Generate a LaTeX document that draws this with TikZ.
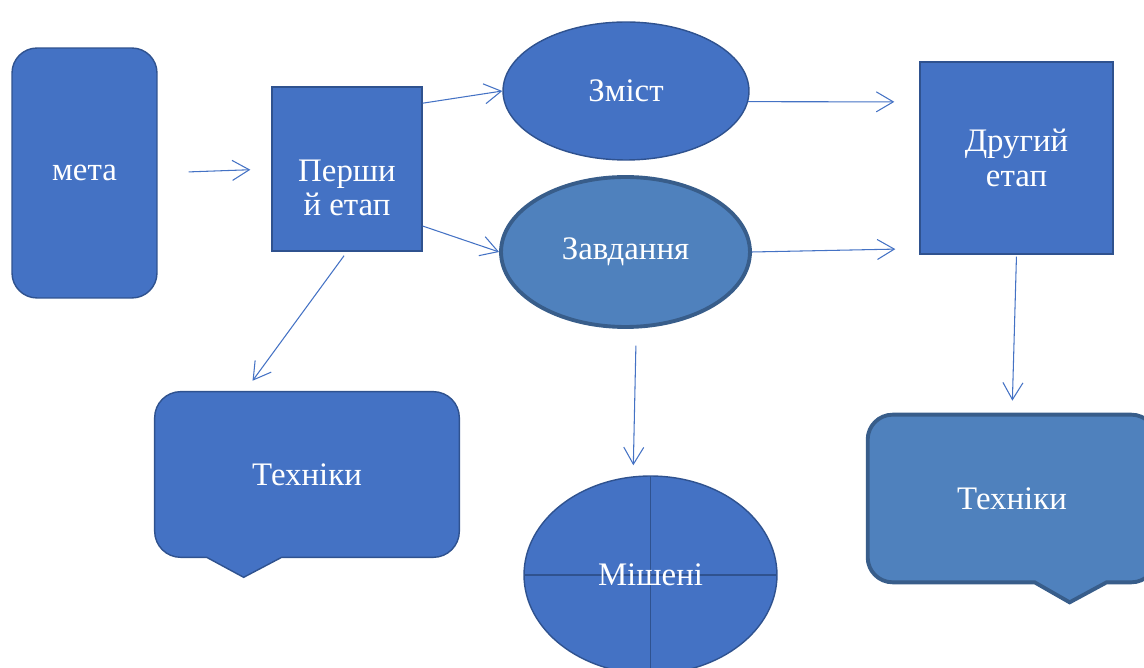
\documentclass[tikz,border=0pt]{standalone}
\usepackage{fontspec}
\setmainfont{Liberation Serif}
\usetikzlibrary{shapes.geometric,arrows.meta}
\definecolor{boxblue}{HTML}{4472C4}
\definecolor{boxedge}{HTML}{2F528F}
\definecolor{softblue}{HTML}{4F81BD}
\definecolor{softedge}{HTML}{385D8A}

\begin{document}
\begin{tikzpicture}[x=0.02cm,y=-0.02cm,
  >={Straight Barb[length=0.34cm,width=0.4cm]},
  every node/.style={text=white,font=\fontsize{18.7}{19.8}\selectfont,align=center},
  bluebox/.style={fill=boxblue,draw=boxedge,line width=0.8pt},
  softbox/.style={fill=softblue,draw=softedge,line width=2.2pt},
  link/.style={->,boxblue,line width=0.6pt}]
  \useasboundingbox (0,0) rectangle (1144,668);
  \clip (0,0) rectangle (1144,668);

  \node[bluebox,rounded corners=0.5cm,minimum width=2.9cm,minimum height=5cm] (meta) at (84.5,173) {мета};
  \node[bluebox,minimum width=3cm,minimum height=3.28cm] (pershyi) at (347,169) {\strut\\Перши\\й етап};
  \node[bluebox,ellipse,minimum width=4.92cm,minimum height=2.76cm] (zmist) at (626,91) {Зміст};
  \node[softbox,ellipse,minimum width=4.98cm,minimum height=3cm] (zavd) at (625.5,252) {Завдання};
  \node[bluebox,minimum width=3.86cm,minimum height=3.84cm] (druhyi) at (1016.5,158) {Другий\\етап};
  \node[bluebox,ellipse,minimum width=5.06cm,minimum height=3.96cm,
    path picture={\draw[boxedge,line width=0.8pt]
      (path picture bounding box.north) -- (path picture bounding box.south)
      (path picture bounding box.west) -- (path picture bounding box.east);}] (mish) at (650.5,575) {Мішені};

  % callouts
  \path (307,474.5) node[minimum width=6.08cm,minimum height=3.3cm] (tekh1) {};
  \draw[bluebox,rounded corners=0.52cm] ([xshift=2.54cm]tekh1.south west) -- (tekh1.south east)
    -- (tekh1.north east) -- (tekh1.north west) -- (tekh1.south west) [sharp corners]
    -- ([xshift=1.04cm]tekh1.south west)
    -- ([shift={(1.78cm,-0.4cm)}]tekh1.south west) -- cycle;
  \node (tekh1t) at (tekh1) {Техніки};

  \path (1012,498.5) node[minimum width=5.76cm,minimum height=3.34cm] (tekh2) {};
  \draw[softbox,rounded corners=0.5cm] ([xshift=4.78cm]tekh2.south west) -- (tekh2.south east)
    -- (tekh2.north east) -- (tekh2.north west) -- (tekh2.south west) [sharp corners]
    -- ([xshift=3.34cm]tekh2.south west)
    -- ([shift={(4.04cm,-0.4cm)}]tekh2.south west) -- cycle;
  \node (tekh2t) at (tekh2) {Техніки};

  % arrows
  \draw[link,shorten <=0.62cm,shorten >=0.42cm] (meta.east) -- (pershyi.west);
  \draw[link] (pershyi.41) -- (zmist.west);
  \draw[link] (pershyi.-37) -- (zavd.west);
  \draw[link,shorten <=0.1cm,shorten >=0.27cm] (pershyi.south) -- (tekh1.127);
  \draw[link,shorten >=0.5cm] (zmist.-5) -- (druhyi.150);
  \draw[link,shorten >=0.48cm] (zavd.east) -- (druhyi.223);
  \draw[link,shorten <=0.34cm,shorten >=0.22cm] (zavd.-82) -- (mish.100);
  \draw[link,shorten <=0.04cm,shorten >=0.28cm] (druhyi.south) -- (tekh2.north);
\end{tikzpicture}
\end{document}
